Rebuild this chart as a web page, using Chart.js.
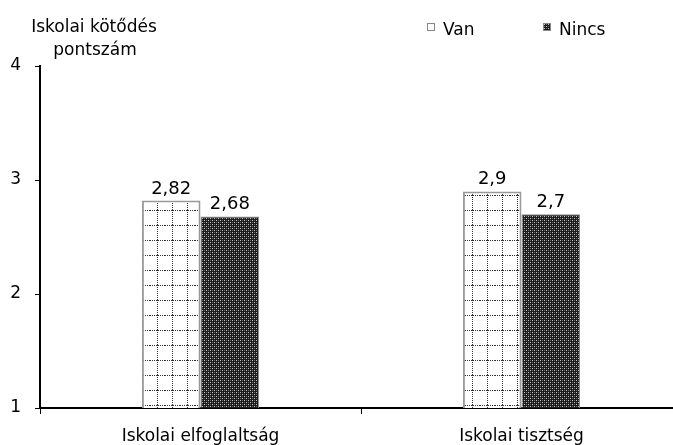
<!DOCTYPE html>
<html>
<head>
<meta charset="utf-8">
<script src="https://cdn.jsdelivr.net/npm/chart.js@4"></script>
<style>
  html, body { margin: 0; padding: 0; background: #fff; width: 673px; height: 445px; overflow: hidden; }
  #wrap { width: 682px; height: 445px; }
</style>
</head>
<body>
<div id="wrap"><canvas id="chart"></canvas></div>
<script>
// Chart data
const categories = ['Iskolai elfoglaltság', 'Iskolai tisztség'];
const seriesNames = ['Van', 'Nincs'];
const vanValues = [2.82, 2.9];
const nincsValues = [2.68, 2.7];
const yTicks = [1, 2, 3, 4];
const axisTitle = ['Iskolai kötődés', 'pontszám'];

const fontFamily = '"DejaVu Sans", Verdana, sans-serif';

// Dotted grid pattern for "Van"
function makeVanPattern() {
    let c = document.createElement('canvas');
    c.width = 15; c.height = 15;
    let g = c.getContext('2d');
    g.fillStyle = '#ffffff';
    g.fillRect(0, 0, 15, 15);
    g.fillStyle = '#333333';
    for (let i = 0; i < 15; i += 2) {
        g.fillRect(i, 0, 1, 1);
        g.fillRect(7, i, 1, 1);
    }
    return g.createPattern(c, 'repeat');
}

// Dark dotted lattice pattern for "Nincs"
function makeNincsPattern() {
    let c = document.createElement('canvas');
    c.width = 4; c.height = 4;
    let g = c.getContext('2d');
    g.fillStyle = '#1c1c1c';
    g.fillRect(0, 0, 4, 4);
    g.fillStyle = '#c8c8c8';
    g.fillRect(0, 0, 1, 1);
    g.fillRect(2, 2, 1, 1);
    g.fillStyle = '#6a6a6a';
    g.fillRect(0, 2, 1, 1);
    g.fillRect(2, 0, 1, 1);
    return g.createPattern(c, 'repeat');
}

const fmt = v => String(v).replace('.', ',');

// Value labels above each bar
const valueLabels = {
    id: 'valueLabels',
    afterDatasetsDraw(chart) {
        let ctx = chart.ctx;
        ctx.save();
        ctx.font = '18px ' + fontFamily;
        ctx.fillStyle = '#000';
        ctx.textAlign = 'center';
        ctx.textBaseline = 'alphabetic';
        chart.data.datasets.forEach((ds, i) => {
            chart.getDatasetMeta(i).data.forEach((bar, j) => {
                ctx.fillText(fmt(ds.data[j]), bar.x, bar.y - 7);
            });
        });
        ctx.restore();
    }
};

// Axis title and legend in the top band
const topBand = {
    id: 'topBand',
    afterDraw(chart) {
        let ctx = chart.ctx;
        ctx.save();
        ctx.font = '17px ' + fontFamily;
        ctx.fillStyle = '#000';
        ctx.textAlign = 'center';
        ctx.textBaseline = 'alphabetic';
        ctx.fillText(axisTitle[0], 94, 32);
        ctx.fillText(axisTitle[1], 95, 55);

        // legend
        let items = [
            { text: seriesNames[0], x: 427, fill: chart.data.datasets[0].backgroundColor },
            { text: seriesNames[1], x: 543, fill: chart.data.datasets[1].backgroundColor }
        ];
        ctx.textAlign = 'left';
        items.forEach(it => {
            ctx.fillStyle = it.fill;
            ctx.fillRect(it.x, 23, 8, 8);
            ctx.strokeStyle = '#888';
            ctx.lineWidth = 1;
            ctx.strokeRect(it.x + 0.5, 23.5, 7, 7);
            ctx.fillStyle = '#000';
            ctx.fillText(it.text, it.x + 16, 35);
        });
        ctx.restore();
    }
};

let ctx = document.getElementById('chart');

new Chart(ctx, {
    type: 'bar',
    data: {
        labels: categories,
        datasets: [{
            label: seriesNames[0],
            data: vanValues,
            backgroundColor: makeVanPattern(),
            borderColor: '#999999',
            borderWidth: 2
        }, {
            label: seriesNames[1],
            data: nincsValues,
            backgroundColor: makeNincsPattern(),
            borderColor: '#8a8a8a',
            borderWidth: 1
        }]
    },
    options: {
        responsive: true,
        maintainAspectRatio: false,
        animation: false,
        events: [],
        categoryPercentage: 0.365,
        barPercentage: 1,
        layout: {
            padding: { top: 66, right: 0, left: 0, bottom: 0 }
        },
        plugins: {
            legend: { display: false },
            tooltip: { enabled: false },
            title: { display: false }
        },
        scales: {
            x: {
                grid: {
                    offset: true,
                    drawOnChartArea: false,
                    drawTicks: true,
                    tickLength: 6,
                    color: '#000',
                    lineWidth: 1
                },
                border: { color: '#000', width: 2 },
                ticks: {
                    color: '#000',
                    padding: 12,
                    font: { family: fontFamily, size: 17 }
                },
                afterFit(scale) { scale.height = 37; }
            },
            y: {
                min: 1,
                max: 4,
                afterBuildTicks(scale) {
                    scale.ticks = yTicks.map(v => ({ value: v }));
                },
                grid: {
                    drawOnChartArea: false,
                    drawTicks: true,
                    tickLength: 5,
                    color: '#000'
                },
                border: { color: '#000', width: 2 },
                ticks: {
                    color: '#000',
                    padding: 14,
                    font: { family: fontFamily, size: 17 }
                },
                afterFit(scale) { scale.width = 40; }
            }
        }
    },
    plugins: [valueLabels, topBand]
});
</script>
</body>
</html>
